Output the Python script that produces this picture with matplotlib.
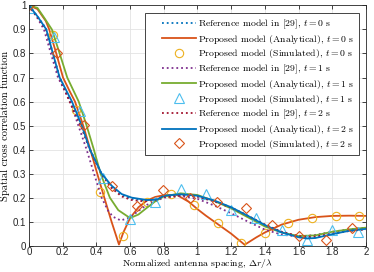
import numpy as np
import matplotlib
matplotlib.use("Agg")
import matplotlib.pyplot as plt
from matplotlib.lines import Line2D
from matplotlib.legend_handler import HandlerLine2D

# ---- data ----
# t = 0 s
ref0_x = [0, 0.05, 0.1, 0.142, 0.18, 0.25, 0.31, 0.36, 0.43, 0.49, 0.55, 0.61, 0.68, 0.75, 0.8, 0.9, 1.0,
          1.1, 1.2, 1.3, 1.4, 1.5, 1.6, 1.65, 1.7, 1.8, 1.9, 2.0]
ref0_y = [1.0, 0.955, 0.905, 0.8, 0.705, 0.59, 0.5, 0.405, 0.3, 0.245, 0.21, 0.195, 0.188, 0.192, 0.205,
          0.212, 0.206, 0.186, 0.159, 0.124, 0.087, 0.057, 0.037, 0.033, 0.035, 0.049, 0.062, 0.07]
ana0_x = [0, 0.05, 0.1, 0.12, 0.162, 0.202, 0.24, 0.273, 0.322, 0.364, 0.405, 0.447, 0.49, 0.534,
          0.56, 0.6, 0.65, 0.7, 0.75, 0.8, 0.876, 0.95, 1.0, 1.05, 1.1, 1.15, 1.2, 1.28, 1.35, 1.4,
          1.5, 1.6, 1.7, 1.8, 1.9, 2.0]
ana0_y = [1.0, 0.985, 0.935, 0.9, 0.8, 0.7, 0.645, 0.6, 0.5, 0.4, 0.3, 0.2, 0.1, 0.005,
          0.055, 0.115, 0.16, 0.188, 0.203, 0.21, 0.212, 0.182, 0.152, 0.125, 0.1, 0.075, 0.05, 0.004,
          0.035, 0.055, 0.088, 0.108, 0.119, 0.124, 0.125, 0.124]
sim0_x = [0, 0.14, 0.28, 0.42, 0.56, 0.70, 0.84, 0.98, 1.12, 1.26, 1.40, 1.54, 1.68, 1.82, 1.96]
sim0_y = [1.0, 0.875, 0.565, 0.225, 0.04, 0.183, 0.215, 0.17, 0.093, 0.012, 0.052, 0.096, 0.117,
          0.124, 0.124]

# t = 1 s
ref1_x = [0, 0.048, 0.089, 0.13, 0.172, 0.245, 0.293, 0.342, 0.386, 0.431, 0.47, 0.5, 0.545, 0.6,
          0.65, 0.7, 0.8, 0.9, 1.0, 1.1, 1.2, 1.3, 1.4, 1.5, 1.6, 1.7, 1.8, 1.9, 2.0]
ref1_y = [1.0, 0.95, 0.9, 0.8, 0.7, 0.6, 0.5, 0.4, 0.3, 0.2, 0.145, 0.12, 0.105, 0.118,
          0.145, 0.17, 0.2, 0.207, 0.195, 0.167, 0.135, 0.1, 0.067, 0.046, 0.038, 0.045, 0.058, 0.068,
          0.075]
ana1_x = [0, 0.05, 0.089, 0.136, 0.182, 0.227, 0.295, 0.342, 0.385, 0.425, 0.48, 0.53, 0.6, 0.65,
          0.7, 0.75, 0.8, 0.9, 1.0, 1.1, 1.2, 1.3, 1.4, 1.5, 1.6, 1.7, 1.8, 1.9, 2.0]
ana1_y = [1.0, 0.99, 0.95, 0.9, 0.8, 0.7, 0.6, 0.5, 0.4, 0.3, 0.2, 0.148, 0.115, 0.13,
          0.158, 0.185, 0.205, 0.218, 0.211, 0.186, 0.155, 0.118, 0.08, 0.055, 0.04, 0.043, 0.058,
          0.068, 0.075]
sim1_x = [0, 0.15, 0.30, 0.44, 0.60, 0.75, 0.90, 1.05, 1.20, 1.35, 1.50, 1.65, 1.80, 1.95]
sim1_y = [0.99, 0.87, 0.561, 0.281, 0.11, 0.183, 0.235, 0.215, 0.149, 0.114, 0.065, 0.024, 0.065,
          0.058]

# t = 2 s
ref2_x = ref0_x
ref2_y = [1.0, 0.95, 0.9, 0.795, 0.7, 0.585, 0.495, 0.4, 0.298, 0.24, 0.205, 0.19, 0.185, 0.19, 0.203,
          0.21, 0.204, 0.184, 0.158, 0.124, 0.088, 0.058, 0.04, 0.037, 0.038, 0.05, 0.061, 0.068]
ana2_x = [0, 0.05, 0.103, 0.142, 0.182, 0.255, 0.313, 0.362, 0.431, 0.49, 0.55, 0.61, 0.7, 0.76,
          0.8, 0.9, 1.0, 1.1, 1.2, 1.3, 1.4, 1.5, 1.6, 1.65, 1.7, 1.8, 1.9, 2.0]
ana2_y = [1.0, 0.955, 0.9, 0.8, 0.7, 0.6, 0.5, 0.4, 0.3, 0.25, 0.215, 0.2, 0.19, 0.192,
          0.208, 0.214, 0.208, 0.188, 0.16, 0.124, 0.086, 0.055, 0.035, 0.03, 0.032, 0.048, 0.062,
          0.07]
sim2_x = [0, 0.164, 0.328, 0.49, 0.643, 0.797, 0.955, 1.118, 1.286, 1.44, 1.60, 1.76, 1.92]
sim2_y = [1.0, 0.80, 0.503, 0.249, 0.164, 0.233, 0.197, 0.183, 0.156, 0.086, 0.04, 0.024, 0.075]

x_ticks = [0, 0.2, 0.4, 0.6, 0.8, 1.0, 1.2, 1.4, 1.6, 1.8, 2.0]
x_tick_labels = ["0", "0.2", "0.4", "0.6", "0.8", "1", "1.2", "1.4", "1.6", "1.8", "2"]
y_ticks = [0, 0.1, 0.2, 0.3, 0.4, 0.5, 0.6, 0.7, 0.8, 0.9, 1.0]
y_tick_labels = ["0", "0.1", "0.2", "0.3", "0.4", "0.5", "0.6", "0.7", "0.8", "0.9", "1"]

labels = [
    r"Reference model in [29], $t = 0$ s",
    r"Proposed model (Analytical), $t = 0$ s",
    r"Proposed model (Simulated), $t = 0$ s",
    r"Reference model in [29], $t = 1$ s",
    r"Proposed model (Analytical), $t = 1$ s",
    r"Proposed model (Simulated), $t = 1$ s",
    r"Reference model in [29], $t = 2$ s",
    r"Proposed model (Analytical), $t = 2$ s",
    r"Proposed model (Simulated), $t = 2$ s",
]

plt.rcParams["font.family"] = ["Liberation Sans", "DejaVu Sans"]
plt.rcParams["mathtext.fontset"] = "cm"

fig = plt.figure(figsize=(3.74, 2.72), dpi=100)
ax = fig.add_axes([0.0775, 0.0967, 0.901, 0.8833])

lw = 1.3
ax.plot(ref0_x, ref0_y, ":", color="#0072BD", lw=lw, label=labels[0])
ax.plot(ana0_x, ana0_y, "-", color="#D95319", lw=lw, label=labels[1])
ax.plot(sim0_x, sim0_y, "o", color="#EDB120", mfc="none", ms=6, mew=0.8, ls="none", label=labels[2])
ax.plot(ref1_x, ref1_y, ":", color="#7E2F8E", lw=lw, label=labels[3])
ax.plot(ana1_x, ana1_y, "-", color="#77AC30", lw=lw, label=labels[4])
ax.plot(sim1_x, sim1_y, "^", color="#4DBEEE", mfc="none", ms=6.5, mew=0.8, ls="none", label=labels[5])
ax.plot(ref2_x, ref2_y, ":", color="#A2142F", lw=lw, label=labels[6])
ax.plot(ana2_x, ana2_y, "-", color="#0072BD", lw=lw, label=labels[7])
ax.plot(sim2_x, sim2_y, "D", color="#D95319", mfc="none", ms=5, mew=0.8, ls="none", label=labels[8])

ax.set_xlim(0, 2)
ax.set_ylim(0, 1)
ax.set_xticks(x_ticks)
ax.set_xticklabels(x_tick_labels)
ax.set_yticks(y_ticks)
ax.set_yticklabels(y_tick_labels)
ax.tick_params(direction="in", length=3, width=0.6, labelsize=7, colors="#262626",
               top=True, right=True, pad=2)
ax.tick_params(axis="x", pad=1)
for s in ax.spines.values():
    s.set_color("#262626")
    s.set_linewidth(0.6)
ax.grid(True, color="#e3e3e3", lw=0.6)
ax.set_axisbelow(True)

ax.set_xlabel(r"Normalized antenna spacing, $\Delta r/\lambda$", family="cmr10", fontsize=7)
ax.xaxis.set_label_coords(0.5, -0.048)
ax.set_ylabel("Spatial cross correlation function", family="cmr10", fontsize=7.5, labelpad=2)

leg = ax.legend(loc="upper right", bbox_to_anchor=(0.979, 0.969), prop={"family": "cmr10", "size": 7},
                fancybox=False, framealpha=1, edgecolor="#262626", handlelength=4.8,
                handletextpad=0.2, borderpad=0.45, labelspacing=0.2, borderaxespad=0,
                handler_map={Line2D: HandlerLine2D(xpad=1.3)})
leg.get_frame().set_linewidth(0.6)

fig.savefig("out.png", dpi=100)
